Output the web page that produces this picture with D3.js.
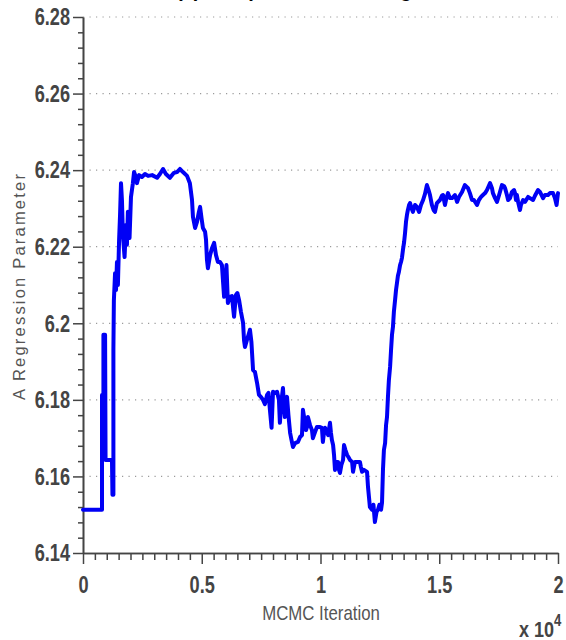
<!DOCTYPE html>
<html>
<head>
<meta charset="utf-8">
<script src="https://cdnjs.cloudflare.com/ajax/libs/d3/7.8.5/d3.min.js"></script>
<style>
  html, body { margin: 0; padding: 0; background: #fff; }
  svg { display: block; }
  .tick-label { font-family: "Liberation Sans", Arial, sans-serif; font-weight: bold; font-size: 23px; fill: #444; }
</style>
</head>
<body>
<svg id="chart" width="566" height="640"></svg>
<script>
// MCMC trace of the regression parameter (iteration, sampled value)
const iterations = [
  0, 800, 800, 860, 860, 930, 950, 1220, 1240, 1280, 1280, 1300, 1350, 1390, 1430, 1470, 1520, 1560, 1600, 1640,
  1680, 1750, 1810, 1850, 1890, 1960, 2020, 2100, 2150, 2210, 2270, 2360, 2480, 2610, 2740, 2910, 3120, 3240, 3370, 3490,
  3660, 3830, 3960, 4080, 4210, 4380, 4500, 4590, 4630, 4720, 4800, 4880, 4930, 4990, 5050, 5140, 5180, 5220, 5260, 5350,
  5430, 5520, 5600, 5680, 5770, 5850, 5940, 5980, 6040, 6100, 6190, 6270, 6360, 6440, 6500, 6570, 6650, 6740, 6780, 6820,
  6900, 6970, 7030, 7090, 7160, 7240, 7330, 7410, 7490, 7580, 7660, 7750, 7810, 7870, 7940, 8000, 8080, 8170, 8250, 8290,
  8360, 8420, 8460, 8500, 8550, 8590, 8650, 8720, 8780, 8840, 8930, 9050, 9140, 9220, 9260, 9330, 9390, 9430, 9470, 9560,
  9640, 9680, 9770, 9850, 9980, 10060, 10100, 10150, 10190, 10270, 10320, 10400, 10440, 10480, 10530, 10570, 10610, 10670, 10740, 10780,
  10820, 10880, 10950, 10990, 11050, 11120, 11200, 11240, 11330, 11370, 11450, 11580, 11660, 11700, 11750, 11830, 11960, 12000, 12040, 12080,
  12170, 12230, 12290, 12360, 12420, 12480, 12550, 12590, 12630, 12670, 12720, 12760, 12800, 12840, 12880, 12930, 12970, 13010, 13050, 13090,
  13140, 13180, 13220, 13260, 13300, 13350, 13390, 13430, 13470, 13520, 13560, 13600, 13640, 13680, 13730, 13770, 13830, 13890, 13980, 14060,
  14150, 14230, 14320, 14400, 14480, 14550, 14610, 14690, 14760, 14820, 14900, 15030, 15110, 15160, 15240, 15300, 15370, 15450, 15540, 15660,
  15750, 15830, 15960, 16080, 16210, 16290, 16380, 16460, 16590, 16670, 16760, 16840, 16930, 17010, 17140, 17220, 17260, 17350, 17430, 17520,
  17640, 17730, 17770, 17850, 17900, 17980, 18060, 18150, 18190, 18230, 18270, 18320, 18400, 18440, 18530, 18610, 18740, 18820, 18950, 19030,
  19160, 19240, 19370, 19450, 19580, 19660, 19790, 19870, 19940, 20000
];
const paramValues = [
  6.1513, 6.1513, 6.1813, 6.1813, 6.1970, 6.1970, 6.1643, 6.1643, 6.1552, 6.1552, 6.1930, 6.2060, 6.2131, 6.2087, 6.2160, 6.2100, 6.2218, 6.2283, 6.2366, 6.2322,
  6.2231, 6.2173, 6.2257, 6.2205, 6.2291, 6.2223, 6.2330, 6.2366, 6.2395, 6.2385, 6.2366, 6.2387, 6.2382, 6.2390, 6.2385, 6.2387, 6.2380, 6.2390, 6.2403, 6.2390,
  6.2380, 6.2393, 6.2395, 6.2403, 6.2395, 6.2385, 6.2366, 6.2322, 6.2278, 6.2249, 6.2265, 6.2291, 6.2304, 6.2275, 6.2249, 6.2239, 6.2218, 6.2165, 6.2144, 6.2178,
  6.2196, 6.2210, 6.2178, 6.2160, 6.2160, 6.2152, 6.2069, 6.2100, 6.2152, 6.2053, 6.2069, 6.2071, 6.2017, 6.2074, 6.2079, 6.2061, 6.2030, 6.2001, 6.1956, 6.1938,
  6.1956, 6.1970, 6.1983, 6.1952, 6.1878, 6.1873, 6.1844, 6.1813, 6.1808, 6.1800, 6.1789, 6.1813, 6.1818, 6.1774, 6.1727, 6.1821, 6.1818, 6.1821, 6.1800, 6.1740,
  6.1800, 6.1831, 6.1787, 6.1755, 6.1800, 6.1808, 6.1760, 6.1714, 6.1695, 6.1677, 6.1687, 6.1690, 6.1703, 6.1708, 6.1774, 6.1747, 6.1721, 6.1729, 6.1755, 6.1734,
  6.1721, 6.1700, 6.1716, 6.1729, 6.1729, 6.1727, 6.1690, 6.1716, 6.1727, 6.1716, 6.1708, 6.1740, 6.1714, 6.1695, 6.1682, 6.1656, 6.1617, 6.1638, 6.1638, 6.1617,
  6.1609, 6.1630, 6.1643, 6.1682, 6.1669, 6.1656, 6.1648, 6.1643, 6.1638, 6.1612, 6.1638, 6.1638, 6.1638, 6.1625, 6.1612, 6.1617, 6.1612, 6.1573, 6.1547, 6.1520,
  6.1513, 6.1526, 6.1481, 6.1507, 6.1513, 6.1526, 6.1513, 6.1531, 6.1617, 6.1669, 6.1687, 6.1734, 6.1755, 6.1808, 6.1852, 6.1886, 6.1930, 6.1970, 6.1990, 6.2030,
  6.2061, 6.2087, 6.2105, 6.2124, 6.2134, 6.2152, 6.2160, 6.2171, 6.2191, 6.2212, 6.2236, 6.2265, 6.2283, 6.2296, 6.2309, 6.2314, 6.2301, 6.2291, 6.2309, 6.2304,
  6.2291, 6.2309, 6.2322, 6.2338, 6.2361, 6.2348, 6.2335, 6.2309, 6.2296, 6.2291, 6.2314, 6.2322, 6.2333, 6.2335, 6.2309, 6.2327, 6.2340, 6.2327, 6.2327, 6.2335,
  6.2317, 6.2330, 6.2343, 6.2361, 6.2353, 6.2340, 6.2322, 6.2322, 6.2309, 6.2322, 6.2330, 6.2335, 6.2340, 6.2348, 6.2366, 6.2353, 6.2340, 6.2327, 6.2317, 6.2335,
  6.2361, 6.2358, 6.2353, 6.2335, 6.2322, 6.2327, 6.2343, 6.2348, 6.2340, 6.2322, 6.2335, 6.2317, 6.2296, 6.2309, 6.2322, 6.2317, 6.2330, 6.2327, 6.2322, 6.2333,
  6.2348, 6.2343, 6.2327, 6.2335, 6.2335, 6.2340, 6.2340, 6.2327, 6.2309, 6.2340
];

// Axis ticks
const xTicks = [0, 5000, 10000, 15000, 20000];
const xTickLabels = ["0", "0.5", "1", "1.5", "2"];
const yTicks = [6.14, 6.16, 6.18, 6.2, 6.22, 6.24, 6.26, 6.28];
const yTickLabels = ["6.14", "6.16", "6.18", "6.2", "6.22", "6.24", "6.26", "6.28"];

const titleText = "(a) Sample Path of A Regression Parameter";
const xLabel = "MCMC Iteration";
const yLabel = "A Regression Parameter";

const svg = d3.select("#chart");
const x = d3.scaleLinear().domain([0, 20000]).range([83, 558]);
const y = d3.scaleLinear().domain([6.14, 6.28]).range([553, 17]);

const axisColor = "#444";
const narrow = 0.79; // horizontal squeeze for the condensed lettering

// dotted horizontal grid
svg.append("g")
  .selectAll("line")
  .data(yTicks.slice(1))
  .join("line")
  .attr("x1", x(0)).attr("x2", x(20000))
  .attr("y1", d => y(d)).attr("y2", d => y(d))
  .attr("stroke", "#9a9a9a")
  .attr("stroke-width", 1.2)
  .attr("stroke-dasharray", "1.2,5.3");

// minor ticks
const xMinor = d3.range(0, 20001, 500).filter(v => !xTicks.includes(v));
const yMinor = d3.range(0, 36).map(i => +(6.14 + i * 0.004).toFixed(3)).filter(v => !yTicks.some(t => Math.abs(t - v) < 1e-6));

const xMinorAxis = svg.append("g").attr("transform", `translate(0,${y(6.14)})`)
  .call(d3.axisBottom(x).tickValues(xMinor).tickSize(7).tickSizeOuter(0).tickFormat(""));
const yMinorAxis = svg.append("g").attr("transform", `translate(${x(0)},0)`)
  .call(d3.axisLeft(y).tickValues(yMinor).tickSize(5).tickSizeOuter(0).tickFormat(""));

// major axes
const xAxis = svg.append("g").attr("transform", `translate(0,${y(6.14)})`)
  .call(d3.axisBottom(x).tickValues(xTicks).tickSize(11).tickSizeOuter(0).tickPadding(11)
    .tickFormat((d, i) => xTickLabels[i]));
const yAxis = svg.append("g").attr("transform", `translate(${x(0)},0)`)
  .call(d3.axisLeft(y).tickValues(yTicks).tickSize(10).tickSizeOuter(0).tickPadding(4)
    .tickFormat((d, i) => yTickLabels[i]));

[xMinorAxis, yMinorAxis, xAxis, yAxis].forEach(g => {
  g.selectAll("path.domain").attr("stroke", axisColor).attr("stroke-width", 1.6);
  g.selectAll(".tick line").attr("stroke", axisColor).attr("stroke-width", 1.5);
  g.selectAll(".tick text").attr("class", "tick-label").attr("fill", null);
});
xAxis.selectAll(".tick text")
  .attr("dy", "0.78em")
  .attr("transform", `scale(${narrow},1)`);
yAxis.selectAll(".tick text")
  .attr("dy", "0.34em")
  .attr("x", -13 / narrow)
  .attr("transform", `scale(${narrow},1)`);

// trace line
const pts = iterations.map((it, i) => [it, paramValues[i]]);
svg.append("path")
  .datum(pts)
  .attr("fill", "none")
  .attr("stroke", "#0000f5")
  .attr("stroke-width", 4)
  .attr("stroke-linejoin", "round")
  .attr("stroke-linecap", "round")
  .attr("d", d3.line().x(d => x(d[0])).y(d => y(d[1])));

// axis titles
svg.append("g")
  .attr("transform", `translate(321,620) scale(0.82,1)`)
  .append("text")
  .attr("text-anchor", "middle")
  .style("font-family", "'Liberation Sans', Arial, sans-serif")
  .style("font-size", "20.5px")
  .attr("fill", "#555")
  .text(xLabel);

svg.append("text")
  .attr("transform", "translate(25,286) rotate(-90)")
  .attr("text-anchor", "middle")
  .style("font-family", "'Liberation Sans', Arial, sans-serif")
  .style("font-size", "16.5px")
  .style("letter-spacing", "2.2px")
  .attr("fill", "#555")
  .text(yLabel);

// exponent note
const expo = svg.append("g")
  .attr("transform", `translate(519,637) scale(0.82,1)`)
  .append("text")
  .attr("class", "tick-label")
  .style("font-size", "22px");
expo.append("tspan").text("x 10");
expo.append("tspan").attr("dy", -11).style("font-size", "16px").text("4");

// title, clipped by the top edge
svg.append("text")
  .attr("x", 176).attr("y", -3)
  .style("font-family", "'Liberation Sans', Arial, sans-serif")
  .style("font-size", "20px")
  .style("font-weight", "bold")
  .attr("fill", "#000")
  .text(titleText);
</script>
</body>
</html>
